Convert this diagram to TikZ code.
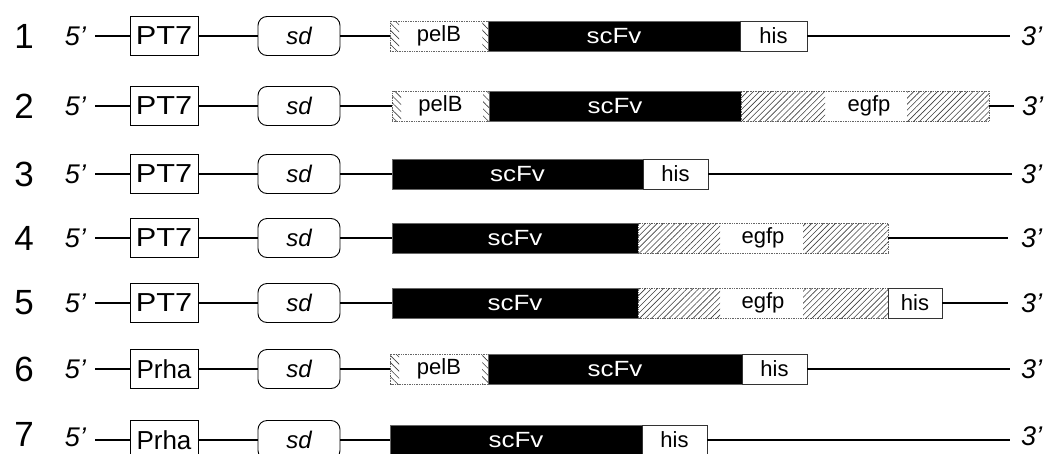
\documentclass[tikz,border=0pt]{standalone}
\usepackage{fontspec}
\setmainfont{Liberation Sans}
\newfontfamily\widefont[FakeStretch=1.18]{Liberation Sans}
\usetikzlibrary{patterns.meta}

\tikzset{
  every node/.style={inner sep=0pt, outer sep=0pt},
  bb/.style={line width=2.7pt},
  rownum/.style={font=\fontsize{35}{40}\selectfont},
  endlbl/.style={font=\fontsize{27}{30}\selectfont\itshape},
  promoter/.style={draw, line width=0.9pt, anchor=west, minimum width=68pt,
    minimum height=39pt, font=\fontsize{26}{28}\selectfont},
  sdbox/.style={draw, line width=0.9pt, rounded corners=9pt, anchor=west,
    minimum width=82pt, minimum height=39pt, font=\fontsize{24}{26}\selectfont\itshape},
  seg/.style={minimum height=30pt, anchor=west, font=\fontsize{22}{24}\selectfont,
    draw=black!60, line width=0.7pt},
  scfv/.style={seg, fill=black, text=white, font=\fontsize{22}{24}\selectfont\widefont},
  hisbox/.style={seg, fill=white, draw=black!80},
  pelbbox/.style={seg, fill=white, densely dotted},
  egfpbox/.style={seg, fill=white, densely dotted},
  hatchR/.style={pattern={Lines[angle=45,distance=4.2pt,line width=0.6pt]}, pattern color=black!75},
  hatchL/.style={pattern={Lines[angle=-45,distance=5pt,line width=0.6pt]}, pattern color=black!75},
}

\begin{document}
\begin{tikzpicture}[x=1pt, y=-1pt]
\useasboundingbox (0,0) rectangle (1047,453);
\clip (0,0) rectangle (1047,453);

% ---------- construct 1 ----------
\node[rownum] (n1) at (24,36) {1};
\node[endlbl, anchor=east] (f1) at (86,36) {5'};
\node[promoter] (p1) at (130,36) {\widefont PT7};
\node[sdbox] (d1) at (258,36) {sd};
\node[pelbbox, minimum width=98pt] (a1) at (390,36) {pelB};
\node[scfv, minimum width=252pt] (s1) at (488,36) {scFv};
\node[hisbox, minimum width=67pt] (h1) at (740,36) {his};
\node[endlbl, anchor=west] (t1) at (1021,36) {3'};
\fill[hatchL] (a1.north west) rectangle ([xshift=9pt]a1.south west);
\fill[hatchL] ([xshift=-6pt]a1.north east) rectangle (a1.south east);
\draw[bb] ([xshift=9pt]f1.east) -- (p1.west);
\draw[bb] (p1.east) -- (d1.west);
\draw[bb] (d1.east) -- (a1.west);
\draw[bb] (h1.east) -- ([xshift=-11pt]t1.west);

% ---------- construct 2 ----------
\node[rownum] (n2) at (24,106) {2};
\node[endlbl, anchor=east] (f2) at (86,106) {5'};
\node[promoter] (p2) at (130,106) {\widefont PT7};
\node[sdbox] (d2) at (258,106) {sd};
\node[pelbbox, minimum width=97pt] (a2) at (392,106) {pelB};
\node[scfv, minimum width=252pt] (s2) at (489,106) {scFv};
\node[egfpbox, minimum width=248pt] (e2) at (741,106) {\hspace*{8pt}egfp};
\node[endlbl, anchor=west] (t2) at (1022,106) {3'};
\fill[hatchL] (a2.north west) rectangle ([xshift=9pt]a2.south west);
\fill[hatchL] ([xshift=-6pt]a2.north east) rectangle (a2.south east);
\fill[hatchR] (e2.north west) rectangle ([xshift=84pt]e2.south west);
\fill[hatchR] ([xshift=-82pt]e2.north east) rectangle (e2.south east);
\draw[bb] ([xshift=9pt]f2.east) -- (p2.west);
\draw[bb] (p2.east) -- (d2.west);
\draw[bb] (d2.east) -- (a2.west);
\draw[bb] (e2.east) -- ([xshift=-8pt]t2.west);

% ---------- construct 3 ----------
\node[rownum] (n3) at (24,174) {3};
\node[endlbl, anchor=east] (f3) at (86,174) {5'};
\node[promoter] (p3) at (130,174) {\widefont PT7};
\node[sdbox] (d3) at (258,174) {sd};
\node[scfv, minimum width=251pt] (s3) at (392,174) {scFv};
\node[hisbox, minimum width=65pt] (h3) at (643,174) {his};
\node[endlbl, anchor=west] (t3) at (1021,174) {3'};
\draw[bb] ([xshift=9pt]f3.east) -- (p3.west);
\draw[bb] (p3.east) -- (d3.west);
\draw[bb] (d3.east) -- (s3.west);
\draw[bb] (h3.east) -- ([xshift=-9pt]t3.west);

% ---------- construct 4 ----------
\node[rownum] (n4) at (24,238) {4};
\node[endlbl, anchor=east] (f4) at (86,238) {5'};
\node[promoter] (p4) at (130,238) {\widefont PT7};
\node[sdbox] (d4) at (258,238) {sd};
\node[scfv, minimum width=246pt] (s4) at (392,238) {scFv};
\node[egfpbox, minimum width=250pt] (e4) at (638,238) {egfp};
\node[endlbl, anchor=west] (t4) at (1021,238) {3'};
\fill[hatchR] (e4.north west) rectangle ([xshift=82pt]e4.south west);
\fill[hatchR] ([xshift=-85pt]e4.north east) rectangle (e4.south east);
\draw[bb] ([xshift=9pt]f4.east) -- (p4.west);
\draw[bb] (p4.east) -- (d4.west);
\draw[bb] (d4.east) -- (s4.west);
\draw[bb] (e4.east) -- ([xshift=-13pt]t4.west);

% ---------- construct 5 ----------
\node[rownum] (n5) at (24,303) {5};
\node[endlbl, anchor=east] (f5) at (86,303) {5'};
\node[promoter] (p5) at (130,303) {\widefont PT7};
\node[sdbox] (d5) at (258,303) {sd};
\node[scfv, minimum width=246pt] (s5) at (392,303) {scFv};
\node[egfpbox, minimum width=250pt] (e5) at (638,303) {egfp};
\node[hisbox, minimum width=54pt] (h5) at (888,303) {his};
\node[endlbl, anchor=west] (t5) at (1021,303) {3'};
\fill[hatchR] (e5.north west) rectangle ([xshift=82pt]e5.south west);
\fill[hatchR] ([xshift=-85pt]e5.north east) rectangle (e5.south east);
\draw[bb] ([xshift=9pt]f5.east) -- (p5.west);
\draw[bb] (p5.east) -- (d5.west);
\draw[bb] (d5.east) -- (s5.west);
\draw[bb] (h5.east) -- ([xshift=-13pt]t5.west);

% ---------- construct 6 ----------
\node[rownum] (n6) at (24,369) {6};
\node[endlbl, anchor=east] (f6) at (86,369) {5'};
\node[promoter] (p6) at (130,369) {Prha};
\node[sdbox] (d6) at (258,369) {sd};
\node[pelbbox, minimum width=98pt] (a6) at (390,369) {pelB};
\node[scfv, minimum width=254pt] (s6) at (488,369) {scFv};
\node[hisbox, minimum width=65pt] (h6) at (742,369) {his};
\node[endlbl, anchor=west] (t6) at (1021,369) {3'};
\fill[hatchL] (a6.north west) rectangle ([xshift=9pt]a6.south west);
\fill[hatchL] ([xshift=-6pt]a6.north east) rectangle (a6.south east);
\draw[bb] ([xshift=9pt]f6.east) -- (p6.west);
\draw[bb] (p6.east) -- (d6.west);
\draw[bb] (d6.east) -- (a6.west);
\draw[bb] (h6.east) -- ([xshift=-11pt]t6.west);

% ---------- construct 7 (runs off the lower edge) ----------
\node[rownum] (n7) at (24,434) {7};
\node[endlbl, anchor=east] (f7) at (86,437) {5'};
\node[promoter] (p7) at (130,440) {Prha};
\node[sdbox] (d7) at (258,440) {sd};
\node[scfv, minimum width=252pt] (s7) at (390,440) {scFv};
\node[hisbox, minimum width=65pt] (h7) at (642,440) {his};
\node[endlbl, anchor=west] (t7) at (1021,436) {3'};
\coordinate (q7) at (1010,440);
\coordinate (r7) at (95,440);
\draw[bb] (r7) -- (p7.west);
\draw[bb] (p7.east) -- (d7.west);
\draw[bb] (d7.east) -- (s7.west);
\draw[bb] (h7.east) -- (q7);
\end{tikzpicture}
\end{document}
